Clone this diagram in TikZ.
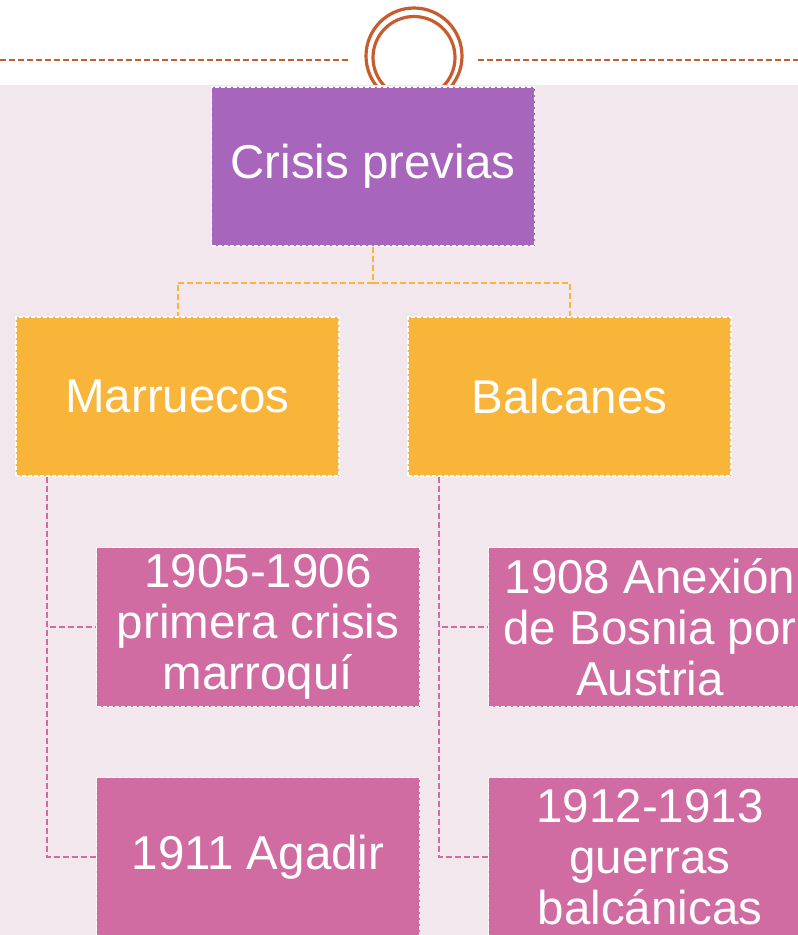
\documentclass[tikz,border=0pt]{standalone}
\usepackage{fontspec}
\setmainfont{Liberation Sans}
\definecolor{rust}{RGB}{199,92,46}
\definecolor{bgpink}{RGB}{243,231,238}
\definecolor{topviolet}{RGB}{168,101,188}
\definecolor{midorange}{RGB}{248,181,58}
\definecolor{lowpink}{RGB}{208,108,162}
\begin{document}
\begin{tikzpicture}[x=1pt, y=1pt,
    box/.style={minimum width=323pt, minimum height=159pt, inner sep=0pt,
        draw=white, dash pattern=on 4pt off 2pt, line width=1.5pt,
        text=white, align=center, font=\fontsize{47.5}{51}\selectfont},
    orangelink/.style={midorange, dash pattern=on 6pt off 3pt, line width=2pt},
    pinklink/.style={lowpink, dash pattern=on 6pt off 3pt, line width=2pt}]
    \useasboundingbox (0,0) rectangle (798,-935);
    \clip (0,0) rectangle (798,-935);
    \fill[white] (0,0) rectangle (798,-935);
    % header
    \draw[rust, dash pattern=on 6pt off 3pt, line width=1.3pt] (0,-60) -- (350,-60);
    \draw[rust, dash pattern=on 6pt off 3pt, line width=1.3pt] (478,-60) -- (798,-60);
    \draw[rust, line width=3.2pt] (414,-56) circle (48);
    \draw[rust, line width=3.2pt] (414,-57.5) circle (41);
    \fill[bgpink] (0,-85) rectangle (798,-935);
    % boxes
    \node[box, fill=topviolet] (crisis) at (373,-166.5) {Crisis previas};
    \node[box, fill=midorange] (marr) at (177.5,-396.5) {Marruecos};
    \node[box, fill=midorange] (balc) at (569.5,-396.5) {Balcanes};
    \node[box, fill=lowpink] (marrA) at (258,-627) {1905-1906\\primera crisis\\marroquí};
    \node[box, fill=lowpink] (marrB) at (258,-857) {1911 Agadir};
    \node[box, fill=lowpink] (balcA) at (650,-627) {1908 Anexión\\de Bosnia por\\Austria};
    \node[box, fill=lowpink] (balcB) at (650,-857) {1912-1913\\guerras\\balcánicas};
    % links
    \draw[orangelink] (crisis.south) -- ++(0,-36) -| (marr.north);
    \draw[orangelink] (crisis.south) -- ++(0,-36) -| (balc.north);
    \draw[pinklink] ([xshift=31.5pt]marr.south west) |- (marrA.west);
    \draw[pinklink] ([xshift=31.5pt]marr.south west) |- (marrB.west);
    \draw[pinklink] ([xshift=31.5pt]balc.south west) |- (balcA.west);
    \draw[pinklink] ([xshift=31.5pt]balc.south west) |- (balcB.west);
\end{tikzpicture}
\end{document}
